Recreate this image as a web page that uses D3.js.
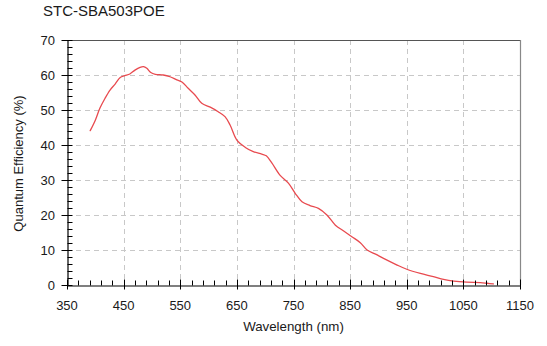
<!DOCTYPE html>
<html>
<head>
<meta charset="utf-8">
<script src="https://cdn.jsdelivr.net/npm/d3@7"></script>
<style>
  html, body { margin: 0; padding: 0; background: #fff; }
  svg text { font-family: "Liberation Sans", Arial, sans-serif; fill: #1a1a1a; }
</style>
</head>
<body>
<svg id="chart" width="547" height="346"></svg>
<script>
// Quantum efficiency curve of the STC-SBA503POE sensor
const wavelength = [391, 400, 408, 417, 426, 435, 444, 452, 461, 470, 479, 485, 491, 498, 506, 520,
  532, 544, 553, 564, 576, 588, 603, 617, 629, 638, 650, 665, 679, 694, 702, 712, 726, 741, 753,
  765, 779, 794, 809, 824, 838, 853, 868, 880, 895, 909, 933, 950, 974, 997, 1015, 1033, 1056,
  1080, 1092, 1103];
const efficiency = [44.1, 47.1, 50.5, 53.3, 55.7, 57.4, 59.3, 59.8, 60.3, 61.4, 62.2, 62.4, 61.9,
  60.7, 60.2, 60.0, 59.5, 58.6, 58.0, 56.2, 54.3, 51.9, 50.8, 49.5, 48.1, 45.7, 41.4, 39.3, 38.1,
  37.4, 36.9, 34.8, 31.4, 29.1, 26.2, 23.8, 22.7, 21.9, 20.0, 17.1, 15.5, 13.8, 12.1, 10.0, 8.8,
  7.6, 5.7, 4.5, 3.3, 2.4, 1.6, 1.1, 0.8, 0.7, 0.5, 0.3];
const xTicks = [350, 450, 550, 650, 750, 850, 950, 1050, 1150];
const yTicks = [0, 10, 20, 30, 40, 50, 60, 70];
const titleText = "STC-SBA503POE";
const xLabel = "Wavelength (nm)";
const yLabel = "Quantum Efficiency (%)";

(function () {
const svg = d3.select("#chart");
const plotL = 67, plotR = 520, plotT = 40, plotB = 285;

const x = d3.scaleLinear().domain([350, 1150]).range([plotL, plotR]);
const y = d3.scaleLinear().domain([0, 70]).range([plotB, plotT]);

// Title
svg.append("text").attr("x", 43).attr("y", 16)
  .attr("font-size", 15).text(titleText);

// Dashed grid
const grid = svg.append("g").attr("stroke", "#c8c8c8").attr("stroke-width", 1)
  .attr("stroke-dasharray", "5,4").attr("fill", "none");
xTicks.slice(1, -1).forEach(v => {
  grid.append("line").attr("x1", Math.round(x(v)) + 0.5).attr("x2", Math.round(x(v)) + 0.5)
    .attr("y1", plotT).attr("y2", plotB);
});
yTicks.slice(1, -1).forEach(v => {
  grid.append("line").attr("y1", Math.round(y(v)) + 0.5).attr("y2", Math.round(y(v)) + 0.5)
    .attr("x1", plotL).attr("x2", plotR);
});

// Frame: top and right borders
svg.append("line").attr("x1", plotL).attr("x2", plotR).attr("y1", plotT + 0.5).attr("y2", plotT + 0.5)
  .attr("stroke", "#555").attr("stroke-width", 1);
svg.append("line").attr("x1", plotR + 0.5).attr("x2", plotR + 0.5).attr("y1", plotT).attr("y2", plotB)
  .attr("stroke", "#888").attr("stroke-width", 1.2);

// Curve
const line = d3.line().x((d, i) => x(wavelength[i])).y(d => y(d)).curve(d3.curveCatmullRom.alpha(0.5));
svg.append("path").datum(efficiency).attr("d", line)
  .attr("fill", "none").attr("stroke", "#e84a4f").attr("stroke-width", 1.3)
  .attr("stroke-linejoin", "round").attr("stroke-linecap", "round");

// X axis: major ticks through the axis, minor ticks inside
const xAxisG = svg.append("g").attr("transform", `translate(0,${plotB + 0.5})`);
xAxisG.call(d3.axisBottom(x).tickValues(d3.range(350, 1151, 20)).tickSize(0).tickFormat(""));
xAxisG.select(".domain").attr("stroke", "#000").attr("stroke-width", 1.2);
xAxisG.selectAll(".tick line").remove();
d3.range(350, 1151, 20).forEach(v => {
  const major = (v - 350) % 100 === 0;
  xAxisG.append("line").attr("x1", Math.round(x(v)) + 0.5).attr("x2", Math.round(x(v)) + 0.5)
    .attr("y1", major ? 4 : 0).attr("y2", major ? -6 : -5)
    .attr("stroke", "#000").attr("stroke-width", 1);
});
xTicks.forEach(v => {
  svg.append("text").attr("x", x(v)).attr("y", plotB + 25)
    .attr("text-anchor", "middle").attr("font-size", 13).text(v);
});

// Y axis: major ticks through the axis, minor ticks inside
const yAxisG = svg.append("g").attr("transform", `translate(${plotL + 0.5},0)`);
yAxisG.call(d3.axisLeft(y).tickValues(yTicks).tickSize(0).tickFormat(""));
yAxisG.select(".domain").attr("stroke", "#000").attr("stroke-width", 1.2);
d3.range(0, 71, 2).forEach(v => {
  const major = v % 10 === 0;
  yAxisG.append("line").attr("y1", Math.round(y(v)) + 0.5).attr("y2", Math.round(y(v)) + 0.5)
    .attr("x1", major ? -6 : 0).attr("x2", 5)
    .attr("stroke", "#000").attr("stroke-width", 1);
});
yTicks.forEach(v => {
  svg.append("text").attr("x", plotL - 12).attr("y", y(v) + 4.5)
    .attr("text-anchor", "end").attr("font-size", 13).text(v);
});

// Axis titles
svg.append("text").attr("x", x(750)).attr("y", 331)
  .attr("text-anchor", "middle").attr("font-size", 13.3).text(xLabel);
svg.append("text").attr("transform", `translate(22.5,${(plotT + plotB) / 2 + 1}) rotate(-90)`)
  .attr("text-anchor", "middle").attr("font-size", 13).text(yLabel);
})();
</script>
</body>
</html>
